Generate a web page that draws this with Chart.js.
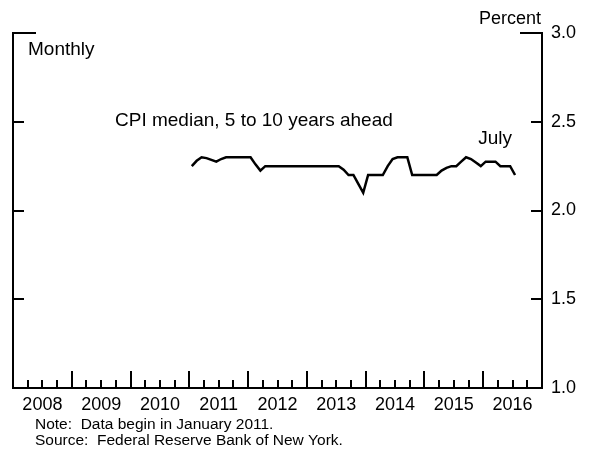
<!DOCTYPE html>
<html>
<head>
<meta charset="utf-8">
<script src="https://cdn.jsdelivr.net/npm/chart.js@4.4.1/dist/chart.umd.min.js"></script>
<style>
  html, body { margin: 0; padding: 0; background: #fff; }
  #wrap { width: 589px; height: 453px; position: relative; }
</style>
</head>
<body>
<div id="wrap"><canvas id="chart"></canvas></div>
<script>
// Median CPI inflation expected 5 to 10 years ahead, monthly, Jan 2011 - Jul 2016
const firstYear = 2011;
const firstMonth = 1;
const cpiMedian = [
  2.25, 2.28, 2.30, 2.295, 2.285, 2.275, 2.29, 2.30, 2.30, 2.30, 2.30, 2.30,   // 2011
  2.30, 2.26, 2.225, 2.25, 2.25, 2.25, 2.25, 2.25, 2.25, 2.25, 2.25, 2.25,     // 2012
  2.25, 2.25, 2.25, 2.25, 2.25, 2.25, 2.25, 2.23, 2.20, 2.20, 2.15, 2.10,      // 2013
  2.20, 2.20, 2.20, 2.20, 2.25, 2.29, 2.30, 2.30, 2.30, 2.20, 2.20, 2.20,      // 2014
  2.20, 2.20, 2.20, 2.225, 2.24, 2.25, 2.25, 2.275, 2.30, 2.29, 2.27, 2.25,    // 2015
  2.275, 2.275, 2.275, 2.25, 2.25, 2.25, 2.20                                  // 2016
];
const yearLabels = ['2008', '2009', '2010', '2011', '2012', '2013', '2014', '2015', '2016'];
const percentTicks = [1.0, 1.5, 2.0, 2.5, 3.0];

const FONT = 'Liberation Sans, Arial, Helvetica, sans-serif';
const startYear = Number(yearLabels[0]);
const monthsShown = yearLabels.length * 12;

// months since Jan of the first labelled year, plotted at mid-month
const points = cpiMedian.map((v, i) => ({
  x: (firstYear - startYear) * 12 + (firstMonth - 1) + i + 0.5,
  y: v
}));

// frame, caps and inward tick marks
const framePlugin = {
  id: 'frame',
  afterDatasetsDraw(chart) {
    const { ctx, chartArea: a, scales } = chart;
    const xs = scales.x, ys = scales.y;
    ctx.save();
    ctx.strokeStyle = '#000';
    ctx.lineWidth = 2;
    ctx.lineCap = 'butt';
    ctx.beginPath();
    ctx.moveTo(a.left + 23, a.top);
    ctx.lineTo(a.left, a.top);
    ctx.lineTo(a.left, a.bottom);
    ctx.lineTo(a.right, a.bottom);
    ctx.lineTo(a.right, a.top);
    ctx.lineTo(a.right - 22, a.top);
    ctx.stroke();

    ctx.beginPath();
    percentTicks.slice(1, -1).forEach(v => {
      const y = Math.round(ys.getPixelForValue(v));
      ctx.moveTo(a.left, y);
      ctx.lineTo(a.left + 11, y);
      ctx.moveTo(a.right, y);
      ctx.lineTo(a.right - 11, y);
    });
    for (let m = 3; m < monthsShown; m += 3) {
      const x = Math.round(xs.getPixelForValue(m));
      const len = m % 12 === 0 ? 17 : 8;
      ctx.moveTo(x, a.bottom);
      ctx.lineTo(x, a.bottom - len);
    }
    ctx.stroke();
    ctx.restore();
  },
  afterDraw(chart) {
    const { ctx, chartArea: a, scales } = chart;
    ctx.save();
    ctx.fillStyle = '#000';
    ctx.textBaseline = 'alphabetic';
    ctx.font = '18px ' + FONT;
    ctx.textAlign = 'right';
    ctx.fillText('Percent', a.right - 1, 24);
    ctx.font = '19px ' + FONT;
    ctx.textAlign = 'left';
    ctx.fillText('Monthly', 28, 55);
    ctx.fillText('CPI median, 5 to 10 years ahead', 115, 126);
    const last = points[points.length - 1];
    ctx.textAlign = 'center';
    ctx.fillText('July', scales.x.getPixelForValue(last.x) - 20, 144);
    ctx.textAlign = 'left';
    ctx.font = '15.5px ' + FONT;
    ctx.fillText('Note:  Data begin in January 2011.', 35, 429);
    ctx.fillText('Source:  Federal Reserve Bank of New York.', 35, 445);
    ctx.restore();
  }
};

new Chart(document.getElementById('chart'), {
  type: 'line',
  data: {
    datasets: [{
      data: points,
      borderColor: '#000',
      borderWidth: 2.5,
      pointRadius: 0,
      tension: 0,
      fill: false
    }]
  },
  options: {
    responsive: true,
    maintainAspectRatio: false,
    animation: false,
    layout: { padding: { top: 33, left: 13, right: 0, bottom: 0 } },
    plugins: {
      legend: { display: false },
      tooltip: { enabled: false }
    },
    scales: {
      x: {
        type: 'linear',
        min: 0,
        max: monthsShown,
        grid: { display: false, drawTicks: false },
        border: { display: false },
        afterBuildTicks: s => { s.ticks = yearLabels.map((_, i) => ({ value: i * 12 + 6 })); },
        afterFit: s => { s.height = 65; },
        ticks: {
          autoSkip: false,
          maxRotation: 0,
          padding: 6,
          color: '#000',
          font: { family: FONT, size: 18 },
          callback: v => yearLabels[Math.round((v - 6) / 12)]
        }
      },
      y: {
        position: 'right',
        min: 1,
        max: 3,
        grid: { display: false, drawTicks: false },
        border: { display: false },
        afterBuildTicks: s => { s.ticks = percentTicks.map(v => ({ value: v })); },
        afterFit: s => { s.width = 47; },
        ticks: {
          padding: 9,
          color: '#000',
          font: { family: FONT, size: 18 },
          callback: v => v.toFixed(1)
        }
      }
    }
  },
  plugins: [framePlugin]
});
</script>
</body>
</html>
